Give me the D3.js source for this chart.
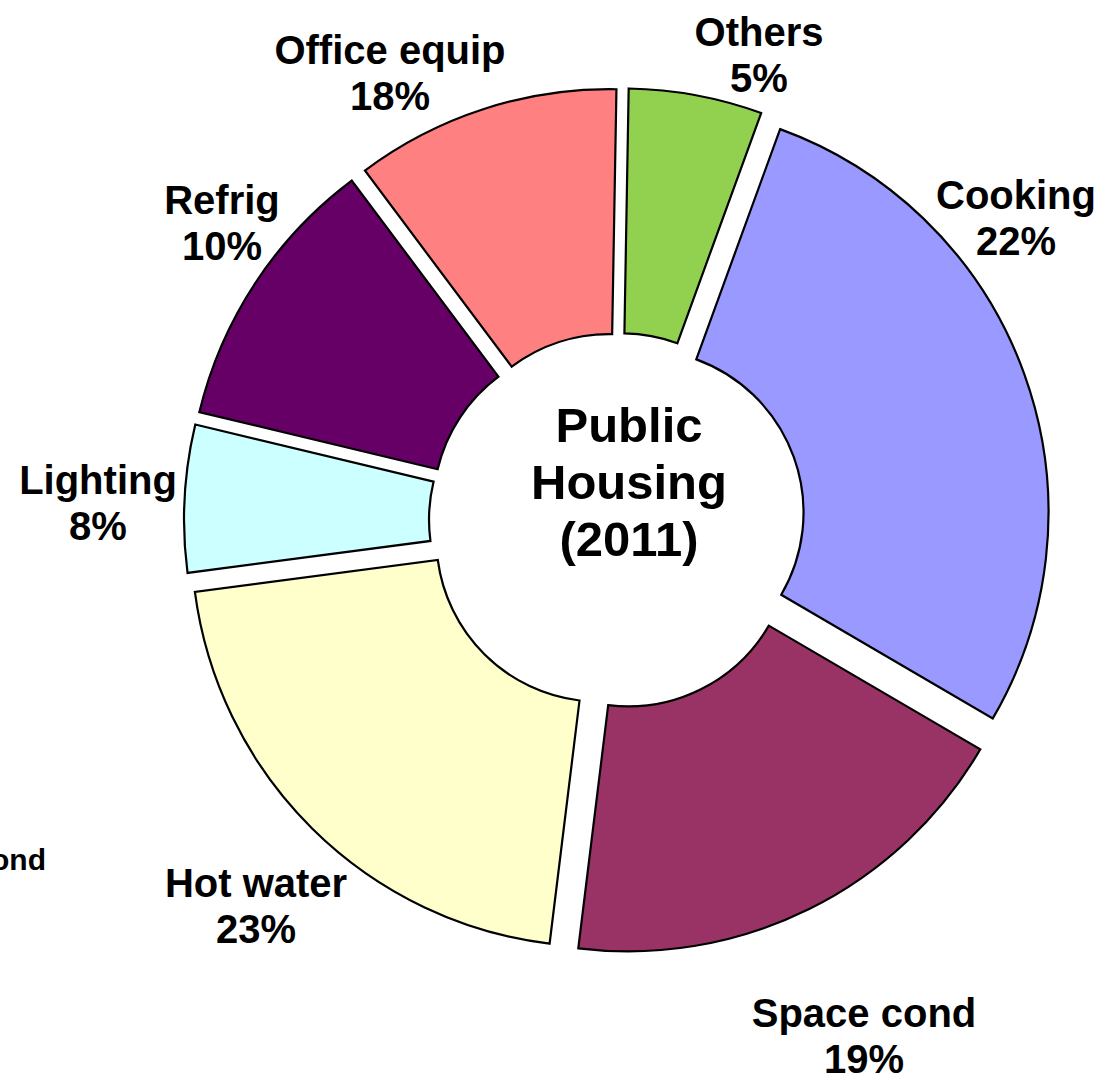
<!DOCTYPE html>
<html>
<!-- Exploded doughnut chart: energy use by end use in public housing (2011). -->
<head>
    <meta charset="utf-8">
    <title>public-housing-doughnut</title>
    <style>
body { margin: 0; background: #fff; }
.slice { stroke: #000; stroke-width: 2.2; stroke-linejoin: miter; }
.label { font-family: "Liberation Sans", Arial, sans-serif; font-weight: bold; font-size: 40px; fill: #000; }
.centre { font-family: "Liberation Sans", Arial, sans-serif; font-weight: bold; font-size: 49px; fill: #000; }
</style>
</head>

<body>
    <script src="https://cdn.jsdelivr.net/npm/d3@7"></script>
    <script>
        /* Categories, clockwise from just past 12 o'clock */
        var categories = ["Others", "Cooking", "Space cond", "Hot water", "Lighting", "Refrig", "Office equip"];
        /* Slice sizes as drawn */
        var shares = [5.28, 27.86, 18.53, 20.97, 5.83, 11.03, 10.5];
        /* Percentages printed in the labels */
        var pctLabels = ["5%", "22%", "19%", "23%", "8%", "10%", "18%"];
        var colours = ["#92D050", "#9999FF", "#993366", "#FFFFCC", "#CCFFFF", "#660066", "#FF8080"];
        var centreLines = ["Public", "Housing", "(2011)"];

        var totalWidth = 1102, totalHeight = 1079;
        var cx = 617, cy = 521;
        var innerR = 163, outerR = 408, explode = 25;
        /* angle of the first slice, 1 degree */
        var firstAngle = Math.PI / 180;

        var svg = d3.select("body").append("svg")
            .attr("width", totalWidth)
            .attr("height", totalHeight);

        var data = categories.map(function (c, i) {
            return { name: c, value: shares[i], pct: pctLabels[i], colour: colours[i] };
        });

        var pie = d3.pie()
            .sort(null)
            .startAngle(firstAngle)
            .endAngle(firstAngle + 2 * Math.PI)
            .value(function (d) { return d.value; });

        var arc = d3.arc()
            .innerRadius(innerR)
            .outerRadius(outerR);

        var g = svg.append("g")
            .attr("transform", "translate(" + cx + "," + cy + ")");

        /* each slice pulled out along its own bisector */
        g.selectAll(".slice")
            .data(pie(data))
            .enter()
            .append("path")
            .attr("class", "slice")
            .attr("fill", function (d) { return d.data.colour; })
            .attr("transform", function (d) {
                var a = (d.startAngle + d.endAngle) / 2;
                return "translate(" + (explode * Math.sin(a)) + "," + (-explode * Math.cos(a)) + ")";
            })
            .attr("d", arc);

        /* label positions: centre x and baseline of the first line */
        var labelPos = {
            "Others": [759, 46],
            "Cooking": [1016, 209],
            "Space cond": [864, 1027],
            "Hot water": [256, 897],
            "Lighting": [98, 494],
            "Refrig": [222, 214],
            "Office equip": [390, 64]
        };

        var labels = svg.selectAll(".label")
            .data(data)
            .enter()
            .append("text")
            .attr("class", "label")
            .attr("text-anchor", "middle")
            .attr("x", function (d) { return labelPos[d.name][0]; })
            .attr("y", function (d) { return labelPos[d.name][1]; });
        labels.append("tspan")
            .attr("x", function (d) { return labelPos[d.name][0]; })
            .text(function (d) { return d.name; });
        labels.append("tspan")
            .attr("x", function (d) { return labelPos[d.name][0]; })
            .attr("dy", 46)
            .text(function (d) { return d.pct; });

        /* centre title */
        svg.append("text")
            .attr("class", "centre")
            .attr("text-anchor", "middle")
            .selectAll("tspan")
            .data(centreLines)
            .enter()
            .append("tspan")
            .attr("x", 629)
            .attr("y", function (d, i) { return 442 + i * 57; })
            .text(function (d) { return d; });

        /* stray label from a neighbouring chart, cut off at the left edge */
        svg.append("text")
            .attr("class", "label")
            .style("font-size", "30px")
            .attr("text-anchor", "end")
            .attr("x", 46)
            .attr("y", 870)
            .text("Space cond");
    </script>
</body>

</html>
